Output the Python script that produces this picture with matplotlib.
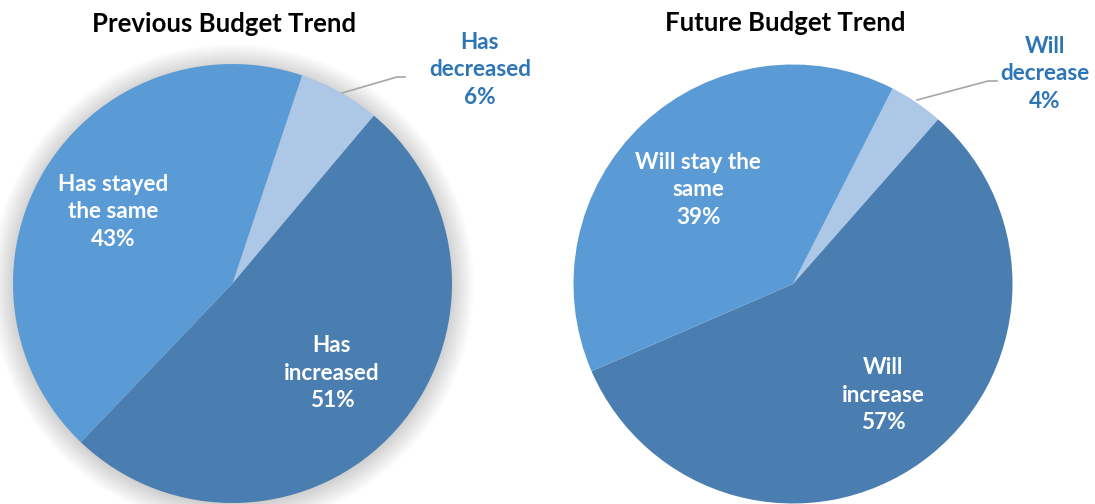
import matplotlib.pyplot as plt
from matplotlib.patches import Circle

# budget trend shares, in percent
prev_labels = ["Has\ndecreased", "Has\nincreased", "Has stayed\nthe same"]
prev_values = [6, 51, 43]
future_labels = ["Will\ndecrease", "Will\nincrease", "Will stay the\nsame"]
future_values = [4, 57, 39]

colors = ["#adc7e7", "#4a7eb0", "#5b9bd5"]
label_blue = "#2e75b6"

plt.rcParams["font.family"] = ["Lato", "DejaVu Sans"]

fig = plt.figure(figsize=(10.95, 5.04), dpi=100)
ax = fig.add_axes([0, 0, 1, 1])

W, H = 1095, 504
FS = 16.2


def draw_pie(values, labels, cx, cy, r, start, inner_pos, outer_pos, leader, shadow=False):
    c = (cx, H - cy)
    if shadow:
        for k in range(24):
            ax.add_patch(Circle((cx, H - cy - 2), r + 22 - k, facecolor="black",
                                edgecolor="none", alpha=0.006, zorder=0))
    ax.pie(values, colors=colors, startangle=start, counterclock=False,
           center=c, radius=r, wedgeprops=dict(linewidth=0), frame=True)
    # small slice gets its label outside with a leader line
    ox, oy = outer_pos
    ax.text(ox, H - oy, f"{labels[0]}\n{values[0]}%", color=label_blue,
            fontsize=FS, fontweight="bold", ha="center", va="center",
            linespacing=1.38)
    xs, ys = zip(*leader)
    ax.plot(xs, [H - y for y in ys], color="#a6a6a6", lw=1.2, zorder=5)
    for (tx, ty), lab, v in zip(inner_pos, labels[1:], values[1:]):
        ax.text(tx, H - ty, f"{lab}\n{v}%", color="white", fontsize=FS,
                fontweight="bold", ha="center", va="center", linespacing=1.38)


draw_pie(prev_values, prev_labels, 232.5, 283.5, 219.5, 71.5,
         [(332, 373), (113, 212)], (480, 70),
         [(342, 93), (397, 77), (405, 77)], shadow=True)
draw_pie(future_values, future_labels, 793, 284, 219.5, 63.0,
         [(883, 395), (698, 190)], (1045, 74),
         [(917, 100), (988, 81), (997, 81)])

ax.text(224, H - 24, "Previous Budget Trend", fontsize=18.5, fontweight="bold",
        ha="center", va="center", color="black")
ax.text(785, H - 23, "Future Budget Trend", fontsize=18.5, fontweight="bold",
        ha="center", va="center", color="black")

ax.set_xlim(0, W)
ax.set_ylim(0, H)
ax.set_aspect("equal")
ax.axis("off")

fig.savefig("out.png", dpi=100)
